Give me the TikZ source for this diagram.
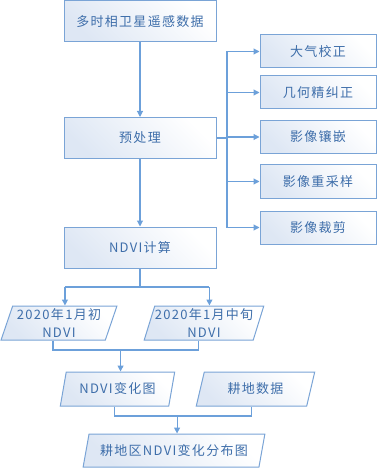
\documentclass[tikz,border=0pt]{standalone}
\usepackage{fontspec}
\setmainfont[LetterSpace=10]{Noto Sans CJK SC}
\usetikzlibrary{shapes.geometric,arrows.meta}
\definecolor{boxc}{RGB}{122,164,214}
\definecolor{linec}{RGB}{108,160,218}
\definecolor{txtc}{RGB}{62,110,170}
\definecolor{fillc}{RGB}{222,231,244}
\begin{document}
\begin{tikzpicture}[x=1pt,y=-1pt,
  base/.style={draw=boxc, line width=1pt, left color=fillc, right color=white, shading angle=135,
    text=txtc, font=\fontsize{13}{18}\selectfont, inner sep=0pt, align=center},
  rbox/.style={base, rectangle, minimum width=#1},
  pbox/.style={base, trapezium, trapezium left angle=70, trapezium right angle=110,
    trapezium stretches=true, minimum height=34pt, minimum width=#1},
  ln/.style={draw=linec, line width=1.1pt},
  arr/.style={ln, -{Triangle[length=6pt,width=6pt]}}]
\useasboundingbox (0,0) rectangle (378,470);

% main column
\node[rbox=152pt, minimum height=41pt] (src) at (140,21.5) {多时相卫星遥感数据};
\node[rbox=152pt, minimum height=41pt] (pre) at (140,138) {预处理};
\node[rbox=152pt, minimum height=41pt] (ndvi) at (140,247.5) {NDVI计算};

% right column
\node[rbox=116pt, minimum height=33pt] (r1) at (318,51.5) {大气校正};
\node[rbox=116pt, minimum height=33pt] (r2) at (318,92.5) {几何精纠正};
\node[rbox=116pt, minimum height=33pt] (r3) at (318,137) {影像镶嵌};
\node[rbox=116pt, minimum height=33pt] (r4) at (318,181.5) {影像重采样};
\node[rbox=116pt, minimum height=33pt] (r5) at (318,227.5) {影像裁剪};

% parallelograms
\node[pbox=116pt] (p1) at (59,323) {2020年1月初\\NDVI};
\node[pbox=116pt] (p2) at (204,323) {2020年1月中旬\\NDVI};
\node[pbox=115pt] (c1) at (117.5,389) {NDVI变化图};
\node[pbox=119pt] (c2) at (255.5,389) {耕地数据};
\node[pbox=182pt, minimum height=33pt, trapezium left angle=67, trapezium right angle=113] (fin) at (174,450.5) {耕地区NDVI变化分布图};

% connectors
\coordinate (bus) at (227,0);
\coordinate (j1) at (0,287);
\coordinate (j2) at (0,350);
\coordinate (j3) at (0,416);

\draw[arr] (src.south) -- (pre.north);
\draw[arr] (pre.south) -- (ndvi.north);
\draw[ln] (pre.east) -- (bus |- pre.east);
\draw[ln] (bus |- r1.west) -- (bus |- r5.west);
\foreach \r in {r1,r2,r3,r4,r5} \draw[arr] (bus |- \r.west) -- (\r.west);

\draw[ln] (ndvi.south) -- (ndvi.south |- j1);
\draw[ln] (p1.top side |- j1) -- (p2.top side |- j1);
\draw[arr] (p1.top side |- j1) -- (p1.top side);
\draw[arr] (p2.top side |- j1) -- (p2.top side);

\draw[ln] (p1.bottom side) -- (p1.bottom side |- j2) -- (p2.bottom side |- j2) -- (p2.bottom side);
\draw[arr] (c1.top side |- j2) -- (c1.top side);

\draw[ln] (c1.bottom side) -- (c1.bottom side |- j3) -- (c2.bottom side |- j3) -- (c2.bottom side);
\draw[arr] (fin.top side |- j3) -- (fin.top side);
\end{tikzpicture}
\end{document}
